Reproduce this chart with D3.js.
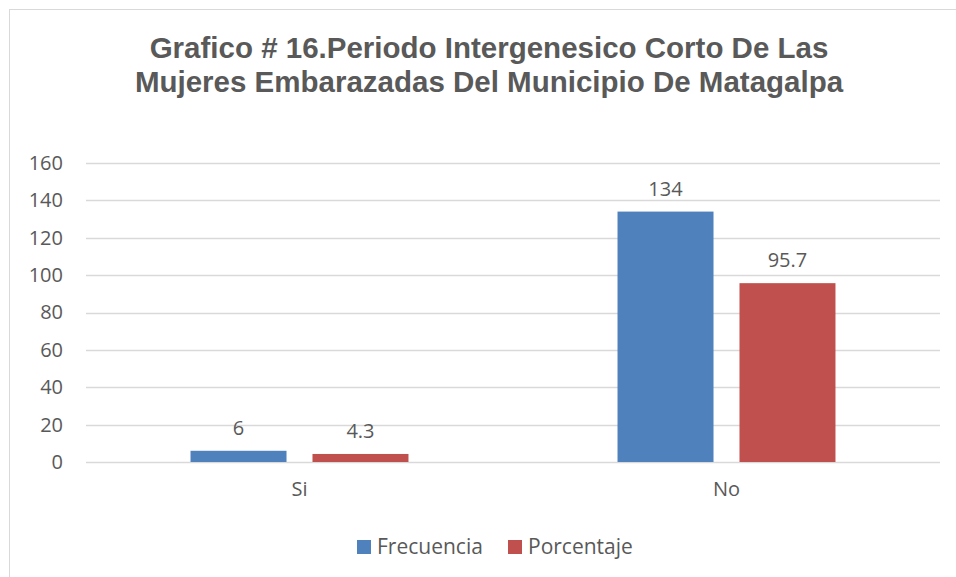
<!DOCTYPE html>
<html>
<head>
<meta charset="utf-8">
<script src="https://cdn.jsdelivr.net/npm/d3@7"></script>
<style>
body { margin: 0; background: #fff; }
text { fill: #595959; }
</style>
</head>
<body>
<svg id="chart" width="956" height="577"></svg>
<script>
var categories = ['Si', 'No'];
var seriesNames = ['Frecuencia', 'Porcentaje'];
var frecuencia = [6, 134];
var porcentaje = [4.3, 95.7];
var labels = [['6', '4.3'], ['134', '95.7']];
var yTicks = [0, 20, 40, 60, 80, 100, 120, 140, 160];
var colors = ['#4F81BD', '#C0504D'];

var svg = d3.select('#chart');
var plotLeft = 86, plotRight = 940, plotTop = 163, plotBottom = 462;
var bodyFont = 'Open Sans, Calibri, sans-serif';

// chart border
svg.append('rect').attr('x', 9.5).attr('y', 9.5).attr('width', 960).attr('height', 580)
    .attr('fill', 'none').attr('stroke', '#d9d9d9').attr('stroke-width', 1);

// title
var title = svg.append('text').attr('text-anchor', 'middle')
    .style('font-family', 'Liberation Sans, Arial, sans-serif')
    .style('font-weight', 'bold').style('font-size', '29.5px');
title.append('tspan').attr('x', 489).attr('y', 58).text('Grafico # 16.Periodo Intergenesico Corto De Las');
title.append('tspan').attr('x', 489).attr('y', 92).text('Mujeres Embarazadas Del Municipio De Matagalpa');

var x0 = d3.scaleBand().domain(categories).range([plotLeft, plotRight]);
var x1 = d3.scaleBand().domain(seriesNames).range([0, x0.bandwidth()]).paddingOuter(0.857).paddingInner(0.213);
var y = d3.scaleLinear().domain([0, 160]).range([plotBottom, plotTop]);

// gridlines
svg.append('g').selectAll('line').data(yTicks).enter().append('line')
    .attr('x1', plotLeft).attr('x2', plotRight)
    .attr('y1', (d) => Math.round(y(d)) + 0.5).attr('y2', (d) => Math.round(y(d)) + 0.5)
    .attr('stroke', '#d9d9d9').attr('stroke-width', 1.3);

// y axis labels
var yAxis = svg.append('g').attr('transform', 'translate(' + (plotLeft - 14) + ',0)')
    .call(d3.axisLeft(y).tickValues(yTicks).tickSize(0).tickPadding(9));
yAxis.select('.domain').remove();
yAxis.selectAll('text').style('font-family', bodyFont).style('font-size', '20px').attr('fill', '#595959');

// x axis labels
var xAxis = svg.append('g').attr('transform', 'translate(0,' + plotBottom + ')')
    .call(d3.axisBottom(x0).tickSize(0).tickPadding(20));
xAxis.select('.domain').remove();
xAxis.selectAll('text').style('font-family', bodyFont).style('font-size', '20px').attr('fill', '#595959');

var rows = categories.map((c, i) => ({cat: c, vals: [frecuencia[i], porcentaje[i]], labels: labels[i]}));

var groups = svg.append('g').selectAll('g').data(rows).enter().append('g')
    .attr('transform', (d) => 'translate(' + x0(d.cat) + ',0)');

groups.selectAll('rect').data((d) => d.vals.map((v, j) => ({s: seriesNames[j], v: v, c: colors[j]})))
    .enter().append('rect')
    .attr('x', (d) => x1(d.s))
    .attr('width', x1.bandwidth())
    .attr('y', (d) => y(d.v))
    .attr('height', (d) => y(0) - y(d.v))
    .attr('fill', (d) => d.c);

groups.selectAll('text.lbl').data((d) => d.vals.map((v, j) => ({s: seriesNames[j], v: v, t: d.labels[j]})))
    .enter().append('text').attr('class', 'lbl')
    .attr('x', (d) => x1(d.s) + x1.bandwidth() / 2)
    .attr('y', (d) => y(d.v) - 16)
    .attr('text-anchor', 'middle')
    .style('font-family', bodyFont).style('font-size', '20px')
    .text((d) => d.t);

// legend
var legend = svg.append('g').attr('transform', 'translate(357,540)');
var items = legend.selectAll('g').data(seriesNames).enter().append('g')
    .attr('transform', (d, i) => 'translate(' + (i * 151) + ',0)');
items.append('rect').attr('width', 14).attr('height', 14).attr('fill', (d, i) => colors[i]);
items.append('text').attr('x', 20).attr('y', 14)
    .style('font-family', bodyFont).style('font-size', '21px')
    .text((d) => d);
</script>
</body>
</html>
